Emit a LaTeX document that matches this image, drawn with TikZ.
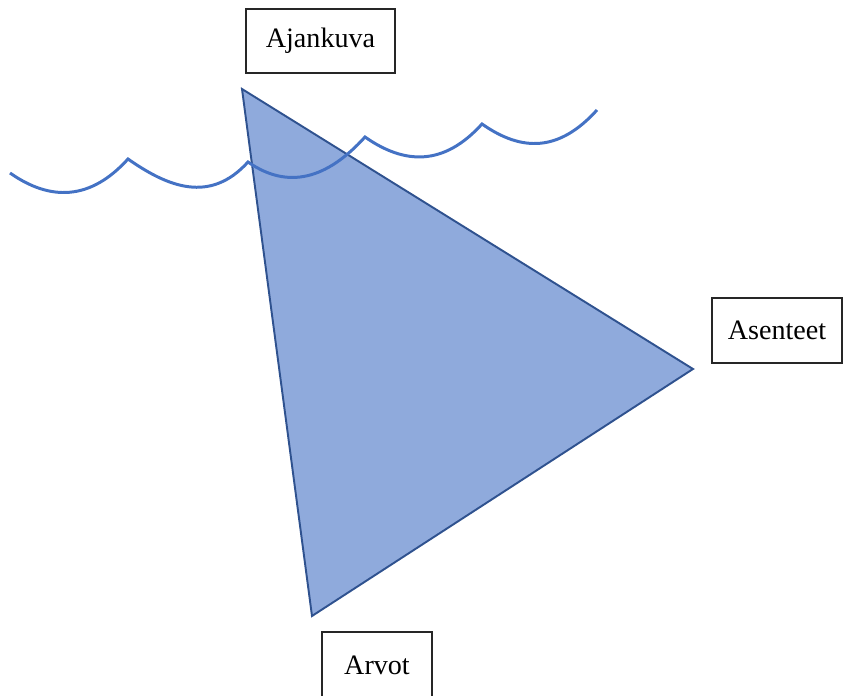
\documentclass[tikz,border=0pt]{standalone}
\usepackage{fontspec}
\setmainfont{Liberation Serif}
\usepackage{xcolor}
\definecolor{seablue}{HTML}{4472C4}
\definecolor{finfill}{HTML}{8FAADC}
\definecolor{finedge}{HTML}{2F528F}

\begin{document}
\begin{tikzpicture}[
  x=0.02cm, y=-0.02cm,
  labelbox/.style 2 args={
    rectangle, draw=black!85, fill=white, line width=0.6pt,
    minimum width=#1, minimum height=#2, inner sep=0pt,
    font=\fontsize{16}{19}\selectfont
  },
  fin/.style={fill=finfill, draw=finedge, line width=1.1pt, line join=miter},
  wave/.style={draw=seablue, line width=1.7pt, line join=miter}
]
  \useasboundingbox (0,0) rectangle (843,696);
  \clip (0,0) rectangle (843,696);

  % the triangle
  \coordinate (tip) at (242,89);
  \coordinate (east) at (693,369);
  \coordinate (south) at (312,616);
  \draw[fin] (tip) -- (east) -- (south) -- cycle;

  % water line
  \coordinate (w0) at (10,173);
  \coordinate (w1) at (128,159);
  \coordinate (w2) at (248,162);
  \coordinate (w3) at (365,137);
  \coordinate (w4) at (482,124);
  \coordinate (w5) at (597,110);
  \draw[wave] (w0) .. controls +(40,28) and +(-38,42) .. (w1)
    .. controls +(40,28) and +(-38,42) .. (w2)
    .. controls +(40,28) and +(-38,42) .. (w3)
    .. controls +(40,28) and +(-38,42) .. (w4)
    .. controls +(40,28) and +(-38,42) .. (w5);

  \node[labelbox={2.98cm}{1.28cm}] (ajankuva) at (320.5,41) {Ajankuva};
  \node[labelbox={2.6cm}{1.3cm}] (asenteet) at (777,330.5) {Asenteet};
  \node[labelbox={2.2cm}{1.32cm}] (arvot) at (377,665) {Arvot};
\end{tikzpicture}
\end{document}
